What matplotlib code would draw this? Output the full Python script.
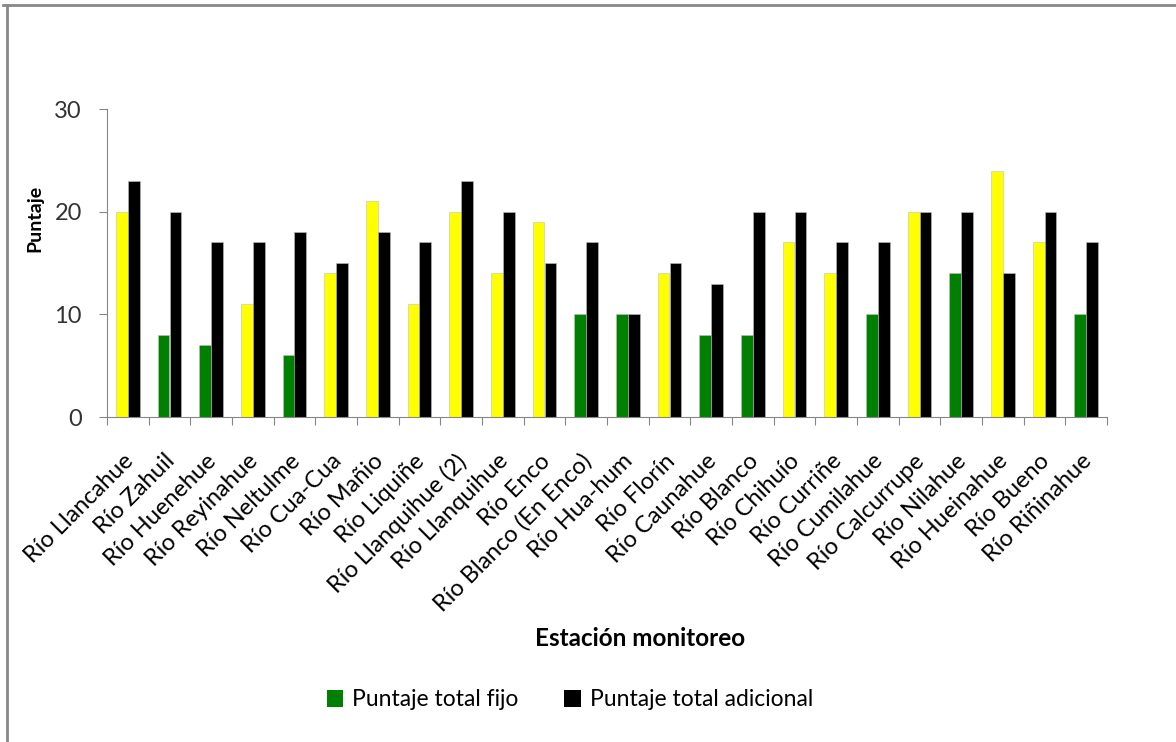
import numpy as np
import matplotlib
matplotlib.use("Agg")
import matplotlib.pyplot as plt
from matplotlib.patches import Patch
from matplotlib.lines import Line2D

# Datos
estaciones = ["Río Llancahue", "Río Zahuil", "Río Huenehue", "Río Reyinahue", "Río Neltulme",
              "Río Cua-Cua", "Río Mañio", "Río Liquiñe", "Río Llanquihue (2)", "Río Llanquihue",
              "Río Enco", "Río Blanco (En Enco)", "Río Hua-hum", "Río Florín", "Río Caunahue",
              "Río Blanco", "Río Chihuío", "Río Curriñe", "Río Cumilahue", "Río Calcurrupe",
              "Río Nilahue", "Río Hueinahue", "Río Bueno", "Río Riñinahue"]
puntaje_fijo = [20, 8, 7, 11, 6, 14, 21, 11, 20, 14, 19, 10, 10, 14, 8, 8, 17, 14, 10, 20, 14, 24, 17, 10]
puntaje_adicional = [23, 20, 17, 17, 18, 15, 18, 17, 23, 20, 15, 17, 10, 15, 13, 20, 20, 17, 17, 20, 20, 14, 20, 17]
# color de cada barra del puntaje fijo (verde / amarillo)
color_fijo = ["y", "g", "g", "y", "g", "y", "y", "y", "y", "y", "y", "g",
              "g", "y", "g", "g", "y", "y", "g", "y", "g", "y", "y", "g"]

VERDE = "#008000"
AMARILLO = "#FFFF00"
GRIS = "#868686"

plt.rcParams['font.family'] = ['Lato', 'DejaVu Sans']

fig = plt.figure(figsize=(11.76, 7.42), dpi=100)
ax = fig.add_axes([107 / 1176, 1 - 417 / 742, 1000 / 1176, 308 / 742])

x = np.arange(len(estaciones))
w = 0.283
cols = [AMARILLO if c == "y" else VERDE for c in color_fijo]
ax.bar(x - w / 2, puntaje_fijo, width=w, color=cols, edgecolor="#BFBFBF", linewidth=0.4)
ax.bar(x + w / 2, puntaje_adicional, width=w, color="black", edgecolor="#BFBFBF", linewidth=0.4)

ax.set_xlim(-0.5, len(estaciones) - 0.5)
ax.set_ylim(0, 30)
ax.set_yticks([0, 10, 20, 30])
ax.tick_params(axis='y', labelsize=17, length=6, color=GRIS, pad=12, labelcolor="#333333")

# ticks del eje x en los limites de categoria
ax.set_xticks(np.arange(-0.5, len(estaciones)))
ax.set_xticklabels([])
ax.tick_params(axis='x', length=6, color=GRIS)
for i, nombre in enumerate(estaciones):
    ax.annotate(nombre, xy=(i, 0), xycoords='data', xytext=(-4, -24), textcoords='offset points',
                rotation=45, ha='right', va='top', rotation_mode='anchor', fontsize=17, color="black")

for s in ["top", "right"]:
    ax.spines[s].set_visible(False)
ax.spines["left"].set_color(GRIS)
ax.spines["bottom"].set_color(GRIS)

fig.text(35 / 1176, 1 - 218 / 742, "Puntaje", rotation=90, ha='center', va='center',
         fontsize=14, fontweight='bold')
fig.text(640 / 1176, 1 - 638 / 742, "Estación monitoreo", ha='center', va='center',
         fontsize=17.5, fontweight='bold')

handles = [Patch(facecolor=VERDE), Patch(facecolor="black")]
fig.legend(handles, ["Puntaje total fijo", "Puntaje total adicional"], loc='center',
           bbox_to_anchor=(570 / 1176, 1 - 700 / 742), ncol=2, frameon=False, fontsize=16.5,
           handlelength=0.7, handleheight=0.7, handletextpad=0.4, columnspacing=2.0)

# marco del grafico
fig.add_artist(Line2D([3 / 1176, 1], [1 - 4.5 / 742, 1 - 4.5 / 742], color="#888888", linewidth=2))
fig.add_artist(Line2D([7 / 1176, 7 / 1176], [0, 1 - 4.5 / 742], color="#888888", linewidth=2))

fig.savefig("out.png", dpi=100)
